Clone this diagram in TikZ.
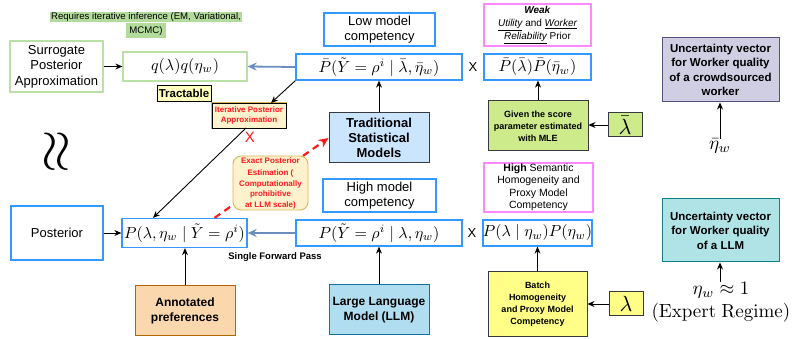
\documentclass[tikz,border=0pt]{standalone}
\usepackage{graphicx}
\usepackage[no-math]{fontspec}
\setmainfont{Liberation Sans}
\usetikzlibrary{arrows.meta}
\definecolor{bblue}{HTML}{3399FF}
\definecolor{lgreen}{HTML}{B9E0A5}
\definecolor{reqgreen}{HTML}{B3DB9C}
\definecolor{pinkb}{HTML}{FF88FF}
\definecolor{arrblue}{HTML}{6C8EBF}
\definecolor{tractfill}{HTML}{FFFFC0}
\definecolor{itfill}{HTML}{FFF2CC}
\definecolor{itgold}{HTML}{D6B656}
\definecolor{tsfill}{HTML}{CCE5FF}
\definecolor{darkb}{HTML}{36393D}
\definecolor{gvfill}{HTML}{CDEB8B}
\definecolor{ucfill}{HTML}{D0CEE2}
\definecolor{ucdraw}{HTML}{56517E}
\definecolor{annfill}{HTML}{FAD7AC}
\definecolor{anndraw}{HTML}{B46504}
\definecolor{llmfill}{HTML}{B1DDF0}
\definecolor{llmdraw}{HTML}{10739E}
\definecolor{batfill}{HTML}{FFFF88}
\definecolor{ulfill}{HTML}{B0E3E6}
\definecolor{uldraw}{HTML}{0E8088}
\definecolor{redt}{HTML}{FF1A1A}
\newcommand{\scm}[2]{\scalebox{#1}{$#2$}}
\begin{document}
\begin{tikzpicture}[x=1pt,y=-1pt,
  box/.style={align=center, inner sep=0pt},
  bluebox/.style={box, draw=bblue, line width=1.3pt},
  greenbox/.style={box, draw=lgreen, line width=1.3pt},
  pinkbox/.style={box, draw=pinkb, line width=1.3pt},
  fbox/.style={box, line width=1pt},
  f13/.style={font=\fontsize{13}{15.5}\selectfont},
  arr/.style={-{Stealth[length=7pt,width=6pt]}, line width=0.9pt},
  barr/.style={-{Stealth[length=9pt,width=8pt]}, line width=1.8pt, draw=arrblue},
  reddash/.style={-{Stealth[length=10pt,width=9pt]}, line width=2.2pt, draw=redt, dash pattern=on 7pt off 5pt},
]
\useasboundingbox (0,0) rectangle (796,339);

% top-left
\node[box, font=\fontsize{9.6}{11.8}\selectfont] (req) at (146,25)
  {\setlength{\fboxsep}{1pt}\colorbox{reqgreen}{Requires iterative inference (EM, Variational,}\\\colorbox{reqgreen}{MCMC)}};
\node[greenbox, f13, minimum width=93pt, minimum height=51pt] (sur) at (56.5,66.5) {Surrogate\\Posterior\\Approximation};
\node[greenbox, minimum width=124pt, minimum height=29pt] (q) at (185,66.5) {\scm{1.6}{q(\lambda)q(\eta_w)}};
\node[box, draw=black, line width=0.8pt, fill=tractfill, minimum width=54pt, minimum height=16pt, font=\fontsize{11.5}{13}\selectfont\bfseries] (tr) at (184,93) {Tractable};

% top middle
\node[bluebox, f13, minimum width=111pt, minimum height=33pt] (low) at (379.5,29.5) {Low model\\competency};
\node[bluebox, minimum width=166pt, minimum height=26pt] (pb) at (379,67) {\scm{1.6}{\bar P(\tilde Y=\rho^i\mid\bar\lambda,\bar\eta_w)}};
\node[box, font=\fontsize{13}{15}\selectfont] (x1) at (473,67) {X};
\node[bluebox, minimum width=107pt, minimum height=26pt] (pp) at (537.5,67) {\scm{1.6}{\bar P(\bar\lambda)\bar P(\bar\eta_w)}};
\node[pinkbox, font=\fontsize{10}{12.7}\selectfont, minimum width=107pt, minimum height=42pt] (weak) at (537.5,25)
  {\textbf{\textit{Weak}}\\\textit{\underline{Utility}} and \textit{\underline{Worker}}\\\textit{\underline{Reliability}} Prior};

\node[fbox, draw=darkb, fill=tsfill, minimum width=100pt, minimum height=50pt, font=\fontsize{13}{15}\selectfont\bfseries] (ts) at (379,138) {Traditional\\Statistical\\Models};
\node[fbox, draw=darkb, fill=gvfill, minimum width=100pt, minimum height=50pt, font=\fontsize{9}{12}\selectfont\bfseries] (gv) at (538,126) {Given the score\\parameter estimated\\with MLE};
\node[fbox, draw=darkb, fill=gvfill, minimum width=34pt, minimum height=24pt] (lb) at (625,125) {\scm{2.2}{\bar\lambda}};
\node[fbox, draw=ucdraw, fill=ucfill, minimum width=117pt, minimum height=64pt, font=\fontsize{11.5}{14.5}\selectfont\bfseries] (uc) at (720.5,70) {Uncertainty vector\\for Worker quality\\of a crowdsourced\\worker};
\node[box] (etab) at (720,146) {\scm{1.9}{\bar\eta_w}};

\node[box, rotate=90] (wav) at (58,152) {\scm{5.6}{\approx}};

% iterative box
\node[box, draw=black, line width=0.6pt, preaction={draw=itgold, line width=2.6pt}, fill=itfill, minimum width=74pt, minimum height=25pt, text=redt, font=\fontsize{8}{10}\selectfont\bfseries] (it) at (249,115.5) {Iterative Posterior\\Approximation};
\node[box, text=redt, font=\fontsize{15}{15}\selectfont] (xx) at (250,137) {X};

% bottom row
\node[bluebox, f13, minimum width=92pt, minimum height=54pt] (post) at (57,233) {Posterior};
\node[bluebox, minimum width=125pt, minimum height=29pt] (pj) at (184.5,233) {\scm{1.6}{P(\lambda,\eta_w\mid\tilde Y=\rho^i)}};
\node[box, font=\fontsize{9.5}{11}\selectfont\bfseries] (sfp) at (275,257) {Single Forward Pass};
\node[fbox, draw=anndraw, fill=annfill, minimum width=100pt, minimum height=50pt, font=\fontsize{12}{15}\selectfont\bfseries] (ann) at (185,311) {Annotated\\preferences};

\node[bluebox, f13, minimum width=113pt, minimum height=33pt] (high) at (379.5,195.5) {High model\\competency};
\node[bluebox, minimum width=166pt, minimum height=26pt] (py) at (379,233) {\scm{1.6}{P(\tilde Y=\rho^i\mid\lambda,\eta_w)}};
\node[box, font=\fontsize{13}{15}\selectfont] (x2) at (472,233) {X};
\node[bluebox, minimum width=109pt, minimum height=26pt] (pl) at (537.5,233) {\scm{1.6}{P(\lambda\mid\eta_w)P(\eta_w)}};
\node[pinkbox, font=\fontsize{10.5}{12.5}\selectfont, minimum width=109pt, minimum height=49pt] (hs) at (538.5,187.5) {\textbf{High} Semantic\\Homogeneity and\\Proxy Model\\Competency};
\node[fbox, draw=llmdraw, fill=llmfill, minimum width=100pt, minimum height=50pt, font=\fontsize{12}{15}\selectfont\bfseries] (llm) at (379,310) {Large Language\\Model (LLM)};
\node[fbox, draw=darkb, fill=batfill, minimum width=99pt, minimum height=65pt, font=\fontsize{9}{12}\selectfont\bfseries] (bat) at (537.5,304.5) {Batch\\Homogeneity\\and Proxy Model\\Competency};
\node[fbox, draw=darkb, fill=batfill, minimum width=34pt, minimum height=24pt] (lam) at (626,304) {\scm{2.2}{\lambda}};
\node[fbox, draw=uldraw, fill=ulfill, minimum width=117pt, minimum height=63pt, font=\fontsize{11.5}{14.5}\selectfont\bfseries] (ul) at (720.5,230.5) {Uncertainty vector\\for Worker quality\\of a LLM};
\node[box, font=\fontsize{10}{23}\selectfont] (eta1) at (721,302) {\scm{1.9}{\eta_w\approx 1}\\\scm{1.9}{\mathrm{(Expert\ Regime)}}};

% connectors
\draw[arr] (sur.east) -- (q.west);
\draw[barr] (pb.west) -- (q.east);
\draw[arr] (ts.north) -- (pb.south);
\draw[arr] (gv.north) -- (gv.north |- pp.south);
\draw[arr] (lb.west) -- (lb.west -| gv.east);
\draw[arr] (etab.north) -- (etab.north |- uc.south);
\draw[arr] (post.east) -- (pj.west);
\draw[barr] (py.west) -- (pj.east);
\draw[arr] (ann.north) -- (ann.north |- pj.south);
\draw[arr] (llm.north) -- (py.south);
\draw[arr] (bat.north) -- (bat.north |- pl.south);
\draw[arr] (lam.west) -- (lam.west -| bat.east);
\draw[arr] ([xshift=-1pt]eta1.north) -- ([xshift=-1pt]eta1.north |- ul.south);

\coordinate (itTop) at (271,103);
\coordinate (itBot) at (246,128);
\draw[arr] (pb.south west) -- (itTop);
\draw[arr] (itBot) -- ([xshift=-31.5pt]pj.north);
\draw[reddash] ([xshift=30pt]pj.north) -- (ts.west);

\node[box, draw=itgold, line width=0.9pt, fill=itfill, rounded corners=8pt, minimum width=75pt, minimum height=54pt, text=redt, font=\fontsize{8}{10.5}\selectfont\bfseries] (ex) at (270.5,183) {Exact Posterior\\[2pt]Estimation (\\Computationally\\prohibitive\\at LLM scale)};
\end{tikzpicture}
\end{document}
